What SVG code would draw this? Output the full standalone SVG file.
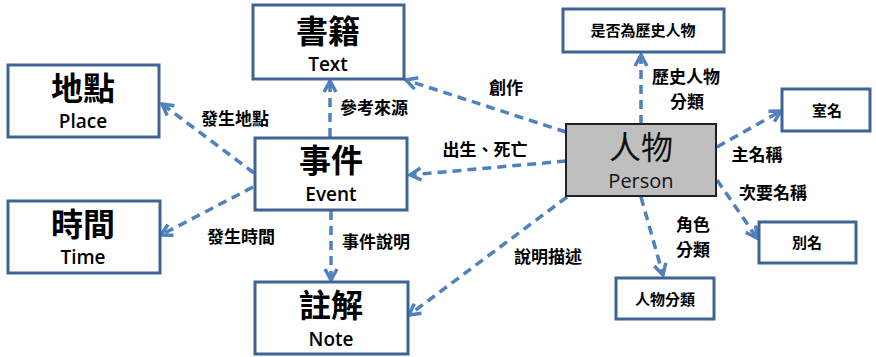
<svg xmlns="http://www.w3.org/2000/svg" width="876" height="357" viewBox="0 0 876 357">
<style>
.box{fill:#fff;stroke:#3e6494;stroke-width:3}
.pbox{fill:#bfbfbf;stroke:#222;stroke-width:2}
.big{font-family:"Noto Sans CJK TC","Noto Sans CJK SC",sans-serif;font-size:32px;font-weight:bold;fill:#000;text-anchor:middle}
.bigp{font-family:"Noto Sans CJK TC","Noto Sans CJK SC",sans-serif;font-size:32px;font-weight:normal;fill:#111;text-anchor:middle}
.en{font-family:"Open Sans","Liberation Sans",sans-serif;font-size:19px;font-weight:600;fill:#000;text-anchor:middle}
.enp{font-family:"Open Sans","Liberation Sans",sans-serif;font-size:20px;fill:#111;text-anchor:middle}
.sm{font-family:"Noto Sans CJK TC","Noto Sans CJK SC",sans-serif;font-size:15px;font-weight:bold;fill:#000;text-anchor:middle}
.lbl{font-family:"Noto Sans CJK TC","Noto Sans CJK SC",sans-serif;font-size:17px;font-weight:bold;fill:#000;text-anchor:middle}
.edge{fill:none;stroke:#4f81bd;stroke-width:3.5;stroke-dasharray:9 6;marker-end:url(#arr)}
</style>
<defs>
<marker id="arr" markerUnits="userSpaceOnUse" markerWidth="16" markerHeight="16" viewBox="0 0 16 16" refX="14" refY="8" orient="auto">
<path d="M3,2 L14,8 L3,14" fill="none" stroke="#4f81bd" stroke-width="3.5"/>
</marker>
</defs>
<rect width="876" height="357" fill="#fff"/>
<g id="connectors">
<line class="edge" x1="566" y1="132" x2="406" y2="80"/>
<line class="edge" x1="330" y1="137" x2="330" y2="81"/>
<line class="edge" x1="254" y1="173" x2="162" y2="104"/>
<line class="edge" x1="566" y1="161" x2="410" y2="175"/>
<line class="edge" x1="253" y1="187" x2="161" y2="235"/>
<line class="edge" x1="331" y1="211" x2="331" y2="280"/>
<line class="edge" x1="567" y1="197" x2="409" y2="315"/>
<line class="edge" x1="641" y1="124" x2="641" y2="55"/>
<line class="edge" x1="717" y1="147" x2="781" y2="111"/>
<line class="edge" x1="717" y1="180" x2="757" y2="238"/>
<line class="edge" x1="641" y1="197" x2="663" y2="275"/>
</g>
<g id="labels">
<text class="lbl" x="506" y="94">創作</text>
<text class="lbl" x="374" y="114">參考來源</text>
<text class="lbl" x="485" y="156">出生、死亡</text>
<text class="lbl" x="235" y="125">發生地點</text>
<text class="lbl" x="241" y="243">發生時間</text>
<text class="lbl" x="376" y="248">事件說明</text>
<text class="lbl" x="548" y="263">說明描述</text>
<text class="lbl" x="686" y="83">歷史人物</text>
<text class="lbl" x="687" y="108">分類</text>
<text class="lbl" x="757" y="161">主名稱</text>
<text class="lbl" x="773" y="199">次要名稱</text>
<text class="lbl" x="693" y="231">角色</text>
<text class="lbl" x="693" y="256">分類</text>
</g>
<g id="text-node">
<rect class="box" x="253" y="5" width="151" height="74"/>
<text class="big" x="328" y="43">書籍</text>
<text class="en" x="328" y="71">Text</text>
</g>
<g id="place-node">
<rect class="box" x="8" y="65" width="151" height="72"/>
<text class="big" x="83" y="100">地點</text>
<text class="en" x="83" y="128">Place</text>
</g>
<g id="event-node">
<rect class="box" x="255" y="138" width="152" height="72"/>
<text class="big" x="331" y="172">事件</text>
<text class="en" x="331" y="201">Event</text>
</g>
<g id="time-node">
<rect class="box" x="8" y="201" width="152" height="72"/>
<text class="big" x="83" y="236">時間</text>
<text class="en" x="83" y="264">Time</text>
</g>
<g id="note-node">
<rect class="box" x="255" y="282" width="153" height="72"/>
<text class="big" x="331" y="317">註解</text>
<text class="en" x="331" y="346">Note</text>
</g>
<g id="person-node">
<rect class="pbox" x="566" y="124" width="150" height="72"/>
<text class="bigp" x="641" y="159">人物</text>
<text class="enp" x="641" y="188">Person</text>
</g>
<g id="historical-node">
<rect class="box" x="563" y="9" width="161" height="43"/>
<text class="sm" x="643" y="36">是否為歷史人物</text>
</g>
<g id="studio-name-node">
<rect class="box" x="782" y="89" width="88" height="42"/>
<text class="sm" x="827" y="116">室名</text>
</g>
<g id="alias-node">
<rect class="box" x="759" y="222" width="97" height="41"/>
<text class="sm" x="807" y="248">別名</text>
</g>
<g id="category-node">
<rect class="box" x="616" y="278" width="98" height="41"/>
<text class="sm" x="665" y="305">人物分類</text>
</g>
</svg>
